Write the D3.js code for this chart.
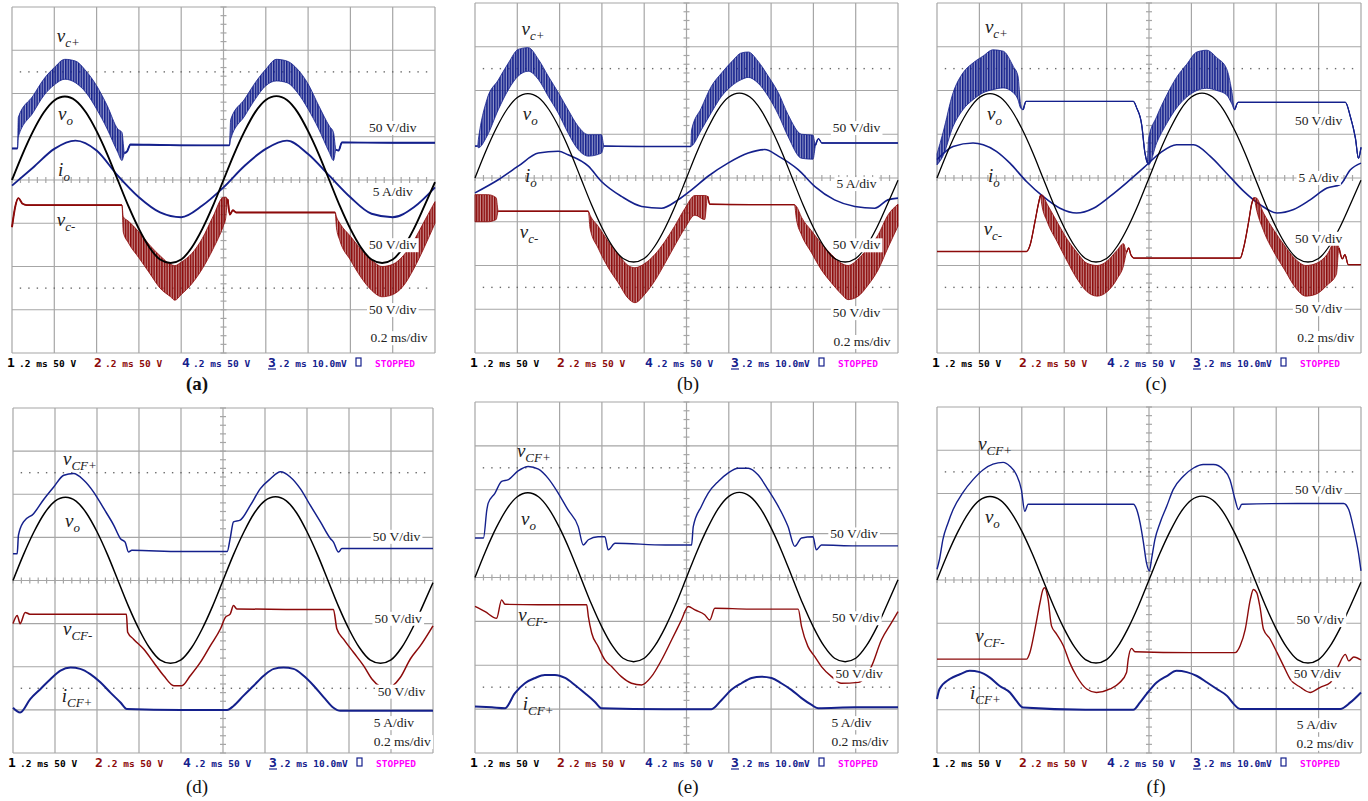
<!DOCTYPE html>
<html>
<head>
<meta charset="utf-8">
<script src="https://cdn.jsdelivr.net/npm/d3@7"></script>
<style>
  body { margin: 0; background: #fff; }
  svg { display: block; }
</style>
</head>
<body>
<svg id="fig" width="1368" height="801"></svg>
<script>
// values in scope divisions: x 0..10, y -4..4 (0 = centre line)
// [x, y] = clean trace, [x, lo, hi] = switching ripple band
const VO = [[0,0],[0.25,0.6],[0.5,1.13],[0.75,1.56],[1,1.84],[1.25,1.93],[1.5,1.84],[1.75,1.56],[2,1.13],[2.25,0.6],
  [2.5,0],[2.75,-0.6],[3,-1.13],[3.25,-1.56],[3.5,-1.84],[3.75,-1.92],[4,-1.84],[4.25,-1.56],[4.5,-1.13],[4.75,-0.6],
  [5,0],[5.25,0.6],[5.5,1.13],[5.75,1.57],[6,1.85],[6.25,1.94],[6.5,1.85],[6.75,1.57],[7,1.13],[7.25,0.6],
  [7.5,0],[7.75,-0.6],[8,-1.13],[8.25,-1.56],[8.5,-1.84],[8.75,-1.92],[9,-1.84],[9.25,-1.56],[9.5,-1.13],[9.75,-0.6],[10,-0.05]];

// (a)
const aVcp = [[0,0.73],[0.13,0.73],
  [0.15,1.0,1.45],[0.5,1.56,1.95],[0.75,1.95,2.33],[1.0,2.2,2.6],[1.25,2.33,2.79],[1.5,2.25,2.75],[1.75,2.02,2.52],[2.0,1.64,2.18],[2.25,1.18,1.72],[2.5,0.64,1.18],[2.6,0.45,1.1],
  [2.66,0.62],[2.72,0.66],[2.8,0.82],[3.5,0.81],[4.5,0.8],[5.14,0.8],
  [5.17,0.95,1.4],[5.5,1.48,1.87],[5.75,1.87,2.25],[6.0,2.18,2.56],[6.25,2.29,2.79],[6.5,2.25,2.75],[6.75,2.02,2.56],[7.0,1.64,2.22],[7.25,1.18,1.72],[7.5,0.64,1.25],[7.6,0.45,1.1],
  [7.66,0.7],[7.72,0.68],[7.8,0.87],[9,0.86],[10,0.86]];
const aIo = [[0,-0.13],[0.5,0.29],[1.0,0.72],[1.5,0.91],[2.0,0.68],[2.5,0.1],[3.0,-0.4],[3.5,-0.75],[4.0,-0.86],[4.5,-0.59],
  [5.0,-0.17],[5.5,0.33],[6.0,0.72],[6.5,0.91],[7.0,0.6],[7.5,0.1],[8.0,-0.4],[8.5,-0.78],[9.0,-0.86],[9.5,-0.63],[10,-0.17]];
const aVcm = [[0,-1.09],[0.08,-0.6],[0.15,-0.42],[0.25,-0.55],[0.35,-0.58],[1.5,-0.58],[2.6,-0.58],
  [2.63,-1.2,-0.85],[2.75,-1.45,-0.95],[3.0,-1.8,-1.2],[3.25,-2.15,-1.5],[3.5,-2.5,-1.75],[3.75,-2.7,-1.95],[3.85,-2.78,-1.98],[4.0,-2.65,-1.9],[4.25,-2.4,-1.7],[4.5,-2.05,-1.35],[4.75,-1.6,-0.85],[5.0,-1.05,-0.4],[5.05,-0.9,-0.4],
  [5.1,-0.45],[5.15,-0.8],[5.22,-0.7],[5.3,-0.75],[6.5,-0.75],[7.64,-0.75],
  [7.67,-1.1,-0.85],[7.75,-1.4,-1.0],[8.0,-1.85,-1.3],[8.25,-2.25,-1.6],[8.5,-2.55,-1.85],[8.75,-2.7,-2.0],[9.0,-2.65,-1.95],[9.25,-2.45,-1.75],[9.5,-2.05,-1.4],[9.75,-1.55,-0.95],[10,-1.0,-0.5]];

// (b)
const bVcp = [[0,0.73],[0.06,0.73],
  [0.08,0.69,0.88],[0.28,0.95,1.79],[0.55,1.56,2.24],[0.79,2.02,2.63],[1.02,2.33,2.94],[1.26,2.44,2.98],[1.5,2.25,2.71],[1.73,1.87,2.33],[1.97,1.48,1.95],[2.2,1.03,1.56],[2.44,0.65,1.18],[2.68,0.5,0.99],[2.99,0.57,0.99],
  [3.05,0.73],[4,0.72],[5.1,0.72],
  [5.12,0.73,1.1],[5.35,1.1,1.6],[5.59,1.5,2.1],[5.83,1.87,2.4],[6.06,2.1,2.65],[6.3,2.25,2.86],[6.46,2.3,2.88],[6.69,2.17,2.67],[6.93,1.87,2.33],[7.17,1.45,1.95],[7.4,0.95,1.45],[7.72,0.45,1.0],[7.99,0.43,0.98],
  [8.05,0.75],[8.12,0.9],[8.2,0.8],[9,0.8],[10,0.8]];
const bIo = [[0,-0.34],[0.55,-0.04],[1.02,0.27],[1.5,0.57],[1.97,0.61],[2.2,0.53],[2.68,0.27],[2.99,-0.08],[3.46,-0.42],[3.94,-0.65],
  [4.41,-0.69],[4.8,-0.5],[5.12,-0.27],[5.51,0.04],[5.98,0.34],[6.46,0.57],[6.85,0.65],[7.17,0.5],[7.64,0.19],[8.03,-0.19],
  [8.5,-0.5],[8.98,-0.65],[9.45,-0.69],[9.76,-0.5],[10,-0.46]];
const bVcm = [[0,-1.0,-0.38],[0.3,-1.0,-0.38],[0.5,-0.95,-0.45],[0.55,-0.76],[1.5,-0.76],[2.68,-0.76],
  [2.72,-1.15,-0.85],[2.91,-1.6,-1.1],[3.15,-2.05,-1.45],[3.39,-2.4,-1.75],[3.62,-2.75,-2.0],[3.78,-2.85,-2.05],[4.02,-2.65,-1.95],[4.25,-2.35,-1.75],[4.49,-1.95,-1.45],[4.72,-1.55,-1.1],[4.96,-1.15,-0.7],[5.2,-0.85,-0.4],[5.43,-0.95,-0.4],
  [5.5,-0.42],[5.55,-0.6],[6.5,-0.61],[7.55,-0.61],
  [7.6,-0.95,-0.65],[7.72,-1.3,-0.9],[7.95,-1.7,-1.2],[8.19,-2.1,-1.5],[8.43,-2.4,-1.75],[8.66,-2.65,-1.95],[8.82,-2.78,-2.0],[9.06,-2.7,-1.85],[9.29,-2.45,-1.6],[9.53,-2.1,-1.3],[9.76,-1.6,-0.85],[10,-1.1,-0.6]];

// (c)
const cVcp = [[0,0.3,0.55],[0.14,0.5,1.03],[0.38,1.18,1.95],[0.61,1.56,2.4],[0.85,1.79,2.63],[1.09,1.95,2.79],[1.32,2.02,2.93],[1.56,2.06,2.9],[1.8,1.95,2.55],[1.91,1.79,2.33],[1.97,1.6,1.7],
  [2.03,1.56],[2.1,1.75],[3.5,1.75],[4.63,1.75],[4.71,1.6],[4.83,1.2],[4.9,0.6],[4.96,0.35],
  [4.99,0.3,0.9],[5.18,0.8,1.4],[5.42,1.25,1.9],[5.65,1.6,2.3],[5.89,1.85,2.6],[6.13,2.0,2.88],[6.36,2.05,2.92],[6.6,2.0,2.75],[6.83,1.9,2.5],[6.95,1.7,2.0],
  [7.02,1.56],[7.1,1.73],[8.5,1.73],[9.63,1.73],[9.75,1.4],[9.87,0.9],[9.94,0.45],[10,0.7]];
const cIo = [[0,0.42],[0.38,0.72],[0.85,0.8],[1.09,0.76],[1.4,0.61],[1.72,0.34],[2.11,-0.08],[2.5,-0.42],[2.9,-0.69],[3.29,-0.8],
  [3.69,-0.69],[4.08,-0.42],[4.47,-0.11],[4.87,0.23],[5.26,0.57],[5.65,0.76],[6.05,0.76],[6.44,0.5],[6.83,0.11],[7.23,-0.3],
  [7.62,-0.61],[8.02,-0.8],[8.41,-0.72],[8.8,-0.5],[9.2,-0.23],[9.51,-0.15],[9.75,0.19],[10,0.34]];
const cVcm = [[0,-1.68],[1,-1.68],[2.11,-1.68],[2.19,-1.55],[2.31,-1.0],[2.39,-0.6],[2.44,-0.4],
  [2.47,-0.6,-0.38],[2.6,-1.0,-0.6],[2.83,-1.45,-1.0],[3.07,-1.9,-1.4],[3.3,-2.3,-1.7],[3.54,-2.6,-1.95],[3.78,-2.7,-2.0],[4.01,-2.6,-1.9],[4.25,-2.3,-1.65],[4.4,-2.0,-1.5],
  [4.47,-1.7],[4.52,-1.6],[4.57,-1.75],[4.65,-1.83],[6,-1.83],[7.15,-1.83],[7.23,-1.6],[7.35,-1.0],[7.42,-0.6],[7.48,-0.45],
  [7.52,-0.65,-0.45],[7.7,-1.2,-0.8],[7.95,-1.7,-1.2],[8.2,-2.1,-1.55],[8.45,-2.5,-1.85],[8.7,-2.7,-2.0],[8.95,-2.65,-1.95],[9.2,-2.45,-1.75],[9.42,-2.2,-1.4],
  [9.48,-1.6],[9.56,-1.85],[9.62,-1.75],[9.7,-1.98],[10,-1.98]];

// (d)
const dVcp = [[0,0.62],[0.1,0.62],[0.13,1.05],[0.25,1.36],[0.49,1.55],[0.73,1.88],[0.97,2.17],[1.21,2.44],[1.44,2.48],[1.68,2.33],
  [1.92,2.05],[2.16,1.67],[2.4,1.28],[2.56,0.97],[2.67,0.89],[2.75,0.66],[2.83,0.7],[4,0.67],[5.1,0.67],[5.17,0.97],
  [5.25,1.36],[5.41,1.4],[5.65,1.74],[5.89,2.13],[6.13,2.36],[6.37,2.52],[6.6,2.4],[6.84,2.13],[7.08,1.74],[7.32,1.36],
  [7.56,0.97],[7.63,0.89],[7.75,0.66],[7.83,0.74],[9,0.74],[10,0.74]];
const dVcm = [[0,-1.0],[0.1,-0.81],[0.17,-1.0],[0.29,-0.74],[0.4,-0.78],[1.5,-0.78],[2.7,-0.78],[2.73,-1.2],[2.87,-1.36],[3.11,-1.59],
  [3.35,-1.9],[3.59,-2.21],[3.83,-2.44],[4.02,-2.44],[4.22,-2.21],[4.46,-1.9],[4.7,-1.51],[4.94,-1.12],[5.06,-0.85],[5.17,-0.78],
  [5.25,-0.58],[5.33,-0.66],[6.5,-0.67],[7.63,-0.67],[7.71,-1.12],[7.87,-1.36],[8.11,-1.67],[8.35,-1.98],[8.55,-2.29],[8.9,-2.5],
  [9.22,-2.25],[9.46,-1.82],[9.7,-1.51],[10,-1.05]];
const dIcf = [[0,-2.95],[0.17,-3.06],[0.41,-2.75],[0.65,-2.52],[0.89,-2.29],[1.13,-2.09],[1.37,-2.02],[1.6,-2.05],[1.84,-2.17],[2.08,-2.36],
  [2.32,-2.6],[2.56,-2.83],[2.71,-2.98],[4,-3.0],[5.1,-3.0],[5.25,-2.91],[5.49,-2.67],[5.73,-2.44],[5.97,-2.21],[6.21,-2.05],
  [6.44,-2.02],[6.68,-2.05],[6.92,-2.21],[7.16,-2.44],[7.4,-2.71],[7.63,-2.95],[7.79,-3.02],[9,-3.02],[10,-3.02]];

// (e)
const eVcp = [[0,0.9],[0.2,0.9],[0.28,1.54],[0.31,1.69],[0.47,1.92],[0.63,2.19],[0.79,2.23],[1.02,2.43],[1.26,2.53],[1.5,2.47],
  [1.73,2.26],[1.97,1.92],[2.2,1.54],[2.44,1.16],[2.56,0.74],[2.68,0.86],[2.91,0.93],[3.07,0.93],[3.15,0.63],[3.31,0.78],
  [4.5,0.74],[5.12,0.74],[5.16,1.16],[5.35,1.62],[5.51,1.92],[5.75,2.19],[5.98,2.38],[6.22,2.49],[6.46,2.49],[6.69,2.34],
  [6.93,2.0],[7.17,1.62],[7.4,1.16],[7.56,0.71],[7.72,0.9],[7.99,0.93],[8.07,0.63],[8.19,0.74],[9,0.72],[10,0.72]];
const eVcm = [[0,-0.66],[0.24,-0.78],[0.51,-0.93],[0.63,-0.51],[0.71,-0.61],[1.5,-0.62],[2.64,-0.62],[2.68,-0.89],[2.76,-1.27],[2.91,-1.57],
  [3.07,-1.88],[3.23,-2.03],[3.46,-2.26],[3.7,-2.41],[3.94,-2.45],[4.17,-2.26],[4.41,-1.88],[4.65,-1.42],[4.88,-0.97],[5.04,-0.66],
  [5.2,-0.74],[5.43,-0.85],[5.55,-0.97],[5.67,-0.7],[6.5,-0.72],[7.64,-0.72],[7.72,-1.12],[7.87,-1.57],[8.03,-1.8],[8.19,-2.03],
  [8.43,-2.26],[8.66,-2.41],[9.06,-2.39],[9.37,-2.03],[9.61,-1.42],[9.84,-1.04],[10,-0.78]];
const eIcf = [[0,-2.94],[0.4,-2.96],[0.71,-2.98],[0.94,-2.64],[1.18,-2.41],[1.42,-2.29],[1.65,-2.22],[1.89,-2.22],[2.13,-2.29],[2.36,-2.45],
  [2.6,-2.64],[2.83,-2.83],[2.99,-2.98],[4.5,-3.0],[5.59,-3.0],[5.83,-2.79],[6.06,-2.56],[6.3,-2.41],[6.54,-2.29],[6.77,-2.26],
  [7.01,-2.29],[7.24,-2.41],[7.48,-2.56],[7.72,-2.75],[7.95,-2.9],[8.11,-2.98],[9,-2.96],[10,-2.96]];

// (f)
const fVcp = [[0,0.25],[0.06,0.48],[0.14,0.94],[0.26,1.32],[0.38,1.63],[0.61,2.02],[0.85,2.32],[1.09,2.55],[1.32,2.68],[1.56,2.72],
  [1.72,2.63],[1.87,2.44],[1.99,2.09],[2.07,1.59],[2.15,1.75],[3.5,1.75],[4.63,1.75],[4.71,1.63],[4.79,1.32],[4.87,0.86],
  [4.94,0.4],[5.01,0.21],[5.06,0.48],[5.14,0.94],[5.26,1.32],[5.42,1.71],[5.57,2.09],[5.81,2.4],[6.05,2.59],[6.28,2.67],
  [6.52,2.67],[6.76,2.55],[6.91,2.32],[7.03,1.86],[7.11,1.63],[7.19,1.75],[8.5,1.77],[9.59,1.77],[9.71,1.63],[9.83,1.17],[9.94,0.63],[10,0.21]];
const fVcm = [[0,-1.83],[1,-1.83],[2.11,-1.83],[2.19,-1.68],[2.31,-1.14],[2.43,-0.52],[2.5,-0.22],[2.54,-0.18],[2.62,-0.45],[2.7,-1.06],
  [2.82,-1.25],[2.98,-1.52],[3.13,-1.91],[3.29,-2.22],[3.53,-2.52],[3.76,-2.6],[4.08,-2.52],[4.31,-2.37],[4.47,-2.14],[4.51,-1.83],
  [4.59,-1.58],[4.67,-1.66],[6,-1.68],[7.03,-1.68],[7.15,-1.52],[7.27,-1.14],[7.39,-0.45],[7.46,-0.22],[7.54,-0.29],[7.62,-0.64],
  [7.7,-1.14],[7.86,-1.37],[8.02,-1.68],[8.17,-1.98],[8.33,-2.29],[8.57,-2.48],[8.8,-2.6],[9.04,-2.48],[9.28,-2.37],[9.47,-1.98],
  [9.63,-1.72],[9.71,-1.87],[9.83,-1.78],[10,-1.85]];
const fIcf = [[0,-2.75],[0.06,-2.52],[0.3,-2.29],[0.54,-2.18],[0.77,-2.1],[1.01,-2.13],[1.24,-2.25],[1.48,-2.45],[1.72,-2.6],[1.87,-2.79],
  [2.03,-2.95],[3.5,-3.0],[4.63,-3.0],[4.79,-2.83],[4.94,-2.64],[5.18,-2.37],[5.42,-2.22],[5.65,-2.1],[5.89,-2.13],[6.13,-2.22],
  [6.37,-2.37],[6.6,-2.52],[6.84,-2.68],[7.0,-2.87],[7.15,-2.98],[8.5,-2.98],[9.51,-2.98],[9.75,-2.83],[10,-2.6]];

const topScales = ["50 V/div", "5 A/div", "50 V/div", "50 V/div", "0.2 ms/div"];
const bottomScales = ["50 V/div", "50 V/div", "50 V/div", "5 A/div", "0.2 ms/div"];
const captions = ["(a)", "(b)", "(c)", "(d)", "(e)", "(f)"];

const BLUE = "#14208c", RED = "#8c0a0a", BLACK = "#000";
const SERIF = "'Liberation Serif', 'Times New Roman', serif";
const MONO = "'DejaVu Sans Mono', monospace";

// layout: pixel boxes [x0, y0, x1, y1], label spots in divisions
const panels = [
  { box: [12, 7, 435, 353], capX: 197, capY: 390, bold: true, lw: 1.9,
    traces: [[aVcp, BLUE], [aIo, BLUE, 1.9], [aVcm, RED], [VO, BLACK]],
    names: [["v", "c+", 1.06, 3.2], ["v", "o", 1.09, 1.39], ["i", "o", 1.09, 0.09], ["v", "c-", 1.06, -1.06]],
    scales: topScales, spots: [[9.0, 1.11], [9.0, -0.37], [9.0, -1.6], [9.0, -3.1], [9.15, -3.75]] },
  { box: [475, 3, 898, 353], capX: 688, capY: 390, lw: 1.3,
    traces: [[bVcp, BLUE], [bIo, BLUE, 1.6], [bVcm, RED], [VO, BLACK]],
    names: [["v", "c+", 1.1, 3.27], ["v", "o", 1.13, 1.33], ["i", "o", 1.18, -0.09], ["v", "c-", 1.06, -1.37]],
    scales: topScales, spots: [[9.02, 1.05], [9.02, -0.23], [9.02, -1.63], [9.02, -3.18], [9.15, -3.84]] },
  { box: [937, 3, 1361, 353], capX: 1156, capY: 390, lw: 1.3,
    traces: [[cVcp, BLUE], [cIo, BLUE, 1.6], [cVcm, RED], [VO, BLACK]],
    names: [["v", "c+", 1.13, 3.31], ["v", "o", 1.18, 1.33], ["i", "o", 1.2, -0.09], ["v", "c-", 1.1, -1.3]],
    scales: topScales, spots: [[9.0, 1.21], [9.0, -0.09], [9.0, -1.48], [9.0, -3.09], [9.17, -3.75]] },
  { box: [13, 408, 433, 753], capX: 197, capY: 793, lw: 1.5,
    traces: [[dVcp, BLUE], [dIcf, BLUE, 2], [dVcm, RED], [VO, BLACK]],
    names: [["v", "CF+", 1.19, 2.68], ["v", "o", 1.24, 1.25], ["v", "CF-", 1.19, -1.26], ["i", "CF+", 1.16, -2.81]],
    scales: bottomScales, spots: [[9.13, 0.92], [9.17, -0.98], [9.25, -2.67], [9.07, -3.4], [9.27, -3.84]] },
  { box: [475, 402, 898, 753], capX: 688, capY: 793, lw: 1.4,
    traces: [[eVcp, BLUE], [eIcf, BLUE, 2], [eVcm, RED], [VO, BLACK]],
    names: [["v", "CF+", 0.99, 2.75], ["v", "o", 1.09, 1.2], ["v", "CF-", 1.02, -1.0], ["i", "CF+", 1.13, -3.02]],
    scales: bottomScales, spots: [[8.96, 0.89], [9.0, -1.02], [9.08, -2.3], [8.9, -3.41], [9.1, -3.83]] },
  { box: [937, 407, 1361, 753], capX: 1156, capY: 793, lw: 1.4,
    traces: [[fVcp, BLUE], [fIcf, BLUE, 2], [fVcm, RED], [VO, BLACK]],
    names: [["v", "CF+", 0.97, 3.0], ["v", "o", 1.13, 1.31], ["v", "CF-", 0.9, -1.43], ["i", "CF+", 0.78, -2.74]],
    scales: bottomScales, spots: [[9.0, 2.0], [9.04, -1.02], [8.97, -2.27], [8.96, -3.45], [9.15, -3.88]] }
];

const status = [
  { dx: -5, t: "1", c: BLACK, big: true }, { dx: 7, t: ".2 ms 50 V", c: BLACK },
  { dx: 82, t: "2", c: RED, big: true }, { dx: 93, t: ".2 ms 50 V", c: RED },
  { dx: 170, t: "4", c: BLUE, big: true }, { dx: 181, t: ".2 ms 50 V", c: BLUE },
  { dx: 256, t: "3", c: BLUE, big: true, u: true }, { dx: 266, t: ".2 ms 10.0mV", c: BLUE },
  { dx: 363, t: "STOPPED", c: "#ff00ff" }
];

const svg = d3.select("#fig");

// ripple texture: dense vertical strokes like the switching ripple on the scope
const defs = svg.append("defs");
[["ripB", BLUE], ["ripR", RED]].forEach(([id, c]) => {
  const pat = defs.append("pattern").attr("id", id).attr("patternUnits", "userSpaceOnUse")
    .attr("width", 2.6).attr("height", 20);
  pat.append("rect").attr("width", 2.6).attr("height", 20).attr("fill", c).attr("fill-opacity", 0.45);
  pat.append("rect").attr("width", 1.5).attr("height", 20).attr("fill", c);
});

panels.forEach((p, pi) => {
  const [x0, y0, x1, y1] = p.box;
  const x = d3.scaleLinear().domain([0, 10]).range([x0, x1]);
  const y = d3.scaleLinear().domain([-4, 4]).range([y1, y0]);
  const g = svg.append("g");

  // graticule
  const grid = g.append("g").attr("stroke", "#a6a6a6").attr("stroke-width", 1.2);
  grid.selectAll(".v").data(d3.range(0, 11)).join("line")
    .attr("x1", d => x(d)).attr("x2", d => x(d)).attr("y1", y0).attr("y2", y1);
  grid.selectAll(".h").data(d3.range(-4, 5)).join("line")
    .attr("x1", x0).attr("x2", x1).attr("y1", d => y(d)).attr("y2", d => y(d));
  const minor = d3.range(0, 50).map(i => i / 5);
  grid.selectAll(".tx").data(minor).join("line")
    .attr("x1", d => x(d)).attr("x2", d => x(d)).attr("y1", y(0) - 3).attr("y2", y(0) + 3);
  grid.selectAll(".ty").data(d3.range(-20, 21).map(i => i / 5)).join("line")
    .attr("x1", x(5) - 3).attr("x2", x(5) + 3).attr("y1", d => y(d)).attr("y2", d => y(d));
  [2.5, -2.5].forEach(lv => {
    g.append("g").selectAll("rect").data(minor.slice(1)).join("rect")
      .attr("x", d => x(d) - 0.7).attr("y", y(lv) - 0.7).attr("width", 1.4).attr("height", 1.4)
      .attr("fill", "#6a6a6a");
  });

  // traces
  p.traces.forEach(([data, color, w]) => {
    if (data.some(d => d.length > 2)) {
      const area = d3.area().x(d => x(d[0])).y0(d => y(d[1]))
        .y1(d => y(d.length > 2 ? d[2] : d[1])).curve(d3.curveMonotoneX);
      g.append("path").attr("d", area(data)).attr("fill", `url(#${color === RED ? "ripR" : "ripB"})`)
        .attr("stroke", color).attr("stroke-width", 1).attr("stroke-opacity", 0.8);
    }
    const line = d3.line().defined(d => d.length === 2)
      .x(d => x(d[0])).y(d => y(d[1])).curve(d3.curveMonotoneX);
    g.append("path").attr("d", line(data)).attr("fill", "none")
      .attr("stroke", color).attr("stroke-width", w || p.lw).attr("stroke-linejoin", "round");
  });

  // trace names
  p.names.forEach(([main, sub, nx, ny]) => {
    const t = g.append("text").attr("x", x(nx)).attr("y", y(ny))
      .attr("font-family", SERIF).attr("font-style", "italic").attr("font-size", 19).attr("fill", "#222");
    t.append("tspan").text(main);
    t.append("tspan").attr("font-size", 13).attr("dy", 5).text(sub);
  });

  // scale labels on white
  p.scales.forEach((s, i) => {
    const [sx, sy] = p.spots[i];
    const t = g.append("text").attr("x", x(sx)).attr("y", y(sy)).attr("text-anchor", "middle")
      .attr("font-family", SERIF).attr("font-size", 13.5).attr("fill", "#222").text(s);
    const b = t.node().getBBox();
    g.insert("rect", () => t.node()).attr("x", b.x - 2).attr("y", b.y + 1)
      .attr("width", b.width + 4).attr("height", b.height - 1).attr("fill", "#fff");
  });

  // status line
  const sy = y1 + 14;
  status.forEach(s => {
    g.append("text").attr("x", x0 + s.dx).attr("y", sy)
      .attr("font-family", MONO).attr("font-size", s.big ? 13 : 9.5)
      .attr("font-weight", "bold").attr("fill", s.c).text(s.t);
    if (s.u) g.append("line").attr("x1", x0 + s.dx).attr("x2", x0 + s.dx + 8)
      .attr("y1", sy + 2).attr("y2", sy + 2).attr("stroke", s.c).attr("stroke-width", 1.2);
  });
  g.append("rect").attr("x", x0 + 344).attr("y", sy - 9).attr("width", 5).attr("height", 8)
    .attr("fill", "none").attr("stroke", BLUE).attr("stroke-width", 1.2);

  // caption
  g.append("text").attr("x", p.capX).attr("y", p.capY).attr("text-anchor", "middle")
    .attr("font-family", SERIF).attr("font-size", 19).attr("font-weight", p.bold ? "bold" : "normal")
    .attr("fill", "#111").text(captions[pi]);
});
</script>
</body>
</html>
